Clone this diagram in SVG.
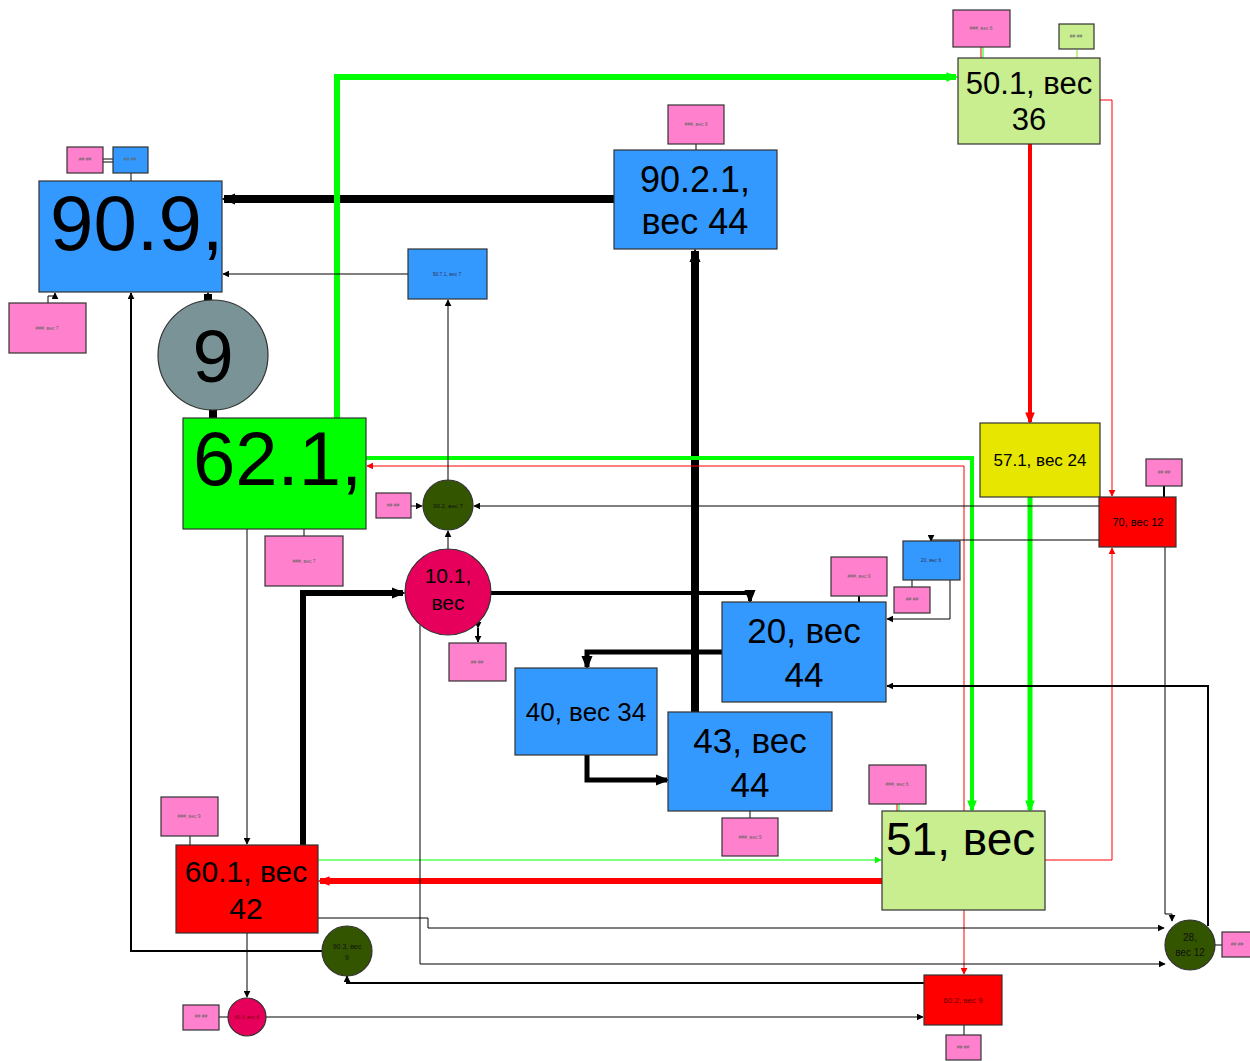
<svg xmlns="http://www.w3.org/2000/svg" width="1250" height="1061" viewBox="0 0 1250 1061">
<style>
rect,circle{stroke:#333;stroke-width:1.2}
.bl{fill:#3399ff}.pk{fill:#ff80cc}.lg{fill:#c8ee90}.gr{fill:#00ff00}.rd{fill:#ff0000}.ye{fill:#e6e600}.dg{fill:#335500}.cr{fill:#e6005c}.gy{fill:#7a9397}
text{font-family:"Liberation Sans",Arial,sans-serif;text-anchor:middle;fill:#000}
.t{font-size:5px;fill:#666}
#edges path{fill:none}
.k{stroke:#000}.r{stroke:#ff0000}.g{stroke:#00ff00}
</style>
<defs>
<marker id="ak" viewBox="0 0 10 10" refX="9" refY="5" markerUnits="userSpaceOnUse" markerWidth="7" markerHeight="7" orient="auto"><path d="M0,0L10,5L0,10z" fill="#000"/></marker>
<marker id="akb" viewBox="0 0 10 10" refX="8" refY="5" markerUnits="userSpaceOnUse" markerWidth="14" markerHeight="14" orient="auto"><path d="M0,1L10,5L0,9z" fill="#000"/></marker>
<marker id="ar" viewBox="0 0 10 10" refX="9" refY="5" markerUnits="userSpaceOnUse" markerWidth="7" markerHeight="7" orient="auto"><path d="M0,0L10,5L0,10z" fill="#ff0000"/></marker>
<marker id="arb" viewBox="0 0 10 10" refX="8" refY="5" markerUnits="userSpaceOnUse" markerWidth="12" markerHeight="12" orient="auto"><path d="M0,1L10,5L0,9z" fill="#ff0000"/></marker>
<marker id="ag" viewBox="0 0 10 10" refX="9" refY="5" markerUnits="userSpaceOnUse" markerWidth="7" markerHeight="7" orient="auto"><path d="M0,0L10,5L0,10z" fill="#00ff00"/></marker>
<marker id="agb" viewBox="0 0 10 10" refX="8" refY="5" markerUnits="userSpaceOnUse" markerWidth="12" markerHeight="12" orient="auto"><path d="M0,1L10,5L0,9z" fill="#00ff00"/></marker>
</defs>
<rect width="1250" height="1061" fill="#fff" style="stroke:none"/>

<g id="edges">
<path class="k" stroke-width="8" d="M614,199H224" marker-end="url(#akb)"/>
<path class="k" stroke-width="8" d="M695,712V251" marker-end="url(#akb)"/>
<path class="k" stroke-width="8" d="M213,418V408"/>
<path class="k" stroke-width="8" d="M208,300V294" marker-end="url(#akb)"/>
<path class="k" stroke-width="6" d="M303,845V593H403" marker-end="url(#akb)"/>
<path class="k" stroke-width="4" d="M491,593H750V601" marker-end="url(#akb)"/>
<path class="k" stroke-width="5" d="M722,652H587V667" marker-end="url(#akb)"/>
<path class="k" stroke-width="5" d="M587,755V780H667" marker-end="url(#akb)"/>
<path class="g" stroke-width="6" d="M337,418V77H956" marker-end="url(#agb)"/>
<path class="g" stroke-width="4" d="M366,458H972V810" marker-end="url(#agb)"/>
<path class="g" stroke-width="5" d="M1030,497V810" marker-end="url(#agb)"/>
<path class="r" stroke-width="4" d="M1030,144V422" marker-end="url(#arb)"/>
<path class="r" stroke-width="6" d="M882,881H320" marker-end="url(#arb)"/>
<path class="r" stroke-width="1" d="M1100,100H1112V496" marker-end="url(#ar)"/>
<path class="r" stroke-width="1" d="M1045,860H1112V548" marker-end="url(#ar)"/>
<path class="r" stroke-width="1" d="M964,811V466H367" marker-end="url(#ar)"/>
<path class="r" stroke-width="1" d="M964,910V974" marker-end="url(#ar)"/>
<path class="g" stroke-width="1" d="M318,860H881" marker-end="url(#ag)"/>
<path class="k" stroke-width="1" d="M408,274H223" marker-end="url(#ak)"/>
<path class="k" stroke-width="1" d="M448,480V300" marker-end="url(#ak)"/>
<path class="k" stroke-width="1" d="M1099,506H474" marker-end="url(#ak)"/>
<path class="k" stroke-width="1" d="M411,506H422" marker-end="url(#ak)"/>
<path class="k" stroke-width="1" d="M448,549V531" marker-end="url(#ak)"/>
<path class="k" stroke-width="2" d="M478,628V642" marker-end="url(#ak)" marker-start="url(#ak)"/>
<path class="k" stroke-width="1" d="M48,303V296H55V293" marker-end="url(#ak)"/>
<path class="k" stroke-width="1" d="M247,529V844" marker-end="url(#ak)"/>
<path class="k" stroke-width="1" d="M247,933V997" marker-end="url(#ak)"/>
<path class="k" stroke-width="1" d="M266,1017H923" marker-end="url(#ak)"/>
<path class="k" stroke-width="1" d="M219,1017H228"/>
<path class="k" stroke-width="2" d="M924,983H347V976" marker-end="url(#ak)"/>
<path class="k" stroke-width="2" d="M322,951H131V293" marker-end="url(#ak)"/>
<path class="k" stroke-width="1" d="M318,918H428V928H1164" marker-end="url(#ak)"/>
<path class="k" stroke-width="1" d="M420,625V964H1165" marker-end="url(#ak)"/>
<path class="k" stroke-width="1" d="M1165,547V914H1172V921" marker-end="url(#ak)"/>
<path class="k" stroke-width="2" d="M1208,926V686H887" marker-end="url(#ak)"/>
<path class="k" stroke-width="1" d="M1099,540H931V541" marker-end="url(#ak)"/>
<path class="k" stroke-width="1" d="M950,580V619H887" marker-end="url(#ak)"/>
<path class="k" stroke-width="1" d="M912,580V587"/>
<path class="k" stroke-width="2" d="M859,596V602"/>
<path class="k" stroke-width="1" d="M696,144V150"/>
<path class="r" stroke-width="1" d="M981,47V58"/>
<path class="g" stroke-width="1" d="M983,47V58"/>
<path stroke="#c8ee90" stroke-width="2" d="M1077,50V58"/>
<path class="r" stroke-width="1" d="M897,804V811"/>
<path class="g" stroke-width="1" d="M899,804V811"/>
<path class="k" stroke-width="1" d="M750,811V818"/>
<path class="k" stroke-width="1" d="M190,836V845"/>
<path class="k" stroke-width="1" d="M304,529V536"/>
<path class="k" stroke-width="2" d="M1164,486V497"/>
<path class="k" stroke-width="1" d="M1215,945H1222"/>
<path class="k" stroke-width="1" d="M964,1025V1035"/>
<path class="k" stroke-width="1" d="M131,173V181"/>
<path class="k" stroke-width="1" d="M103,159H113M103,162H113"/>
</g>

<g id="n909"><rect class="bl" x="39" y="181" width="183" height="111"/><text x="50" y="250" font-size="78" style="text-anchor:start">90.9,</text></g>
<g id="n909p"><rect class="pk" x="67" y="147" width="36" height="26"/><text class="t" x="85" y="161" font-size="3">## ##</text></g>
<g id="n909b"><rect class="bl" x="113" y="147" width="35" height="26"/><text class="t" x="130" y="161" font-size="3">## ##</text></g>
<g id="n909p2"><rect class="pk" x="9" y="303" width="77" height="50"/><text class="t" x="47" y="330">###, вес 7</text></g>
<g id="n9"><circle class="gy" cx="213" cy="355" r="55"/><text x="213" y="382" font-size="74">9</text></g>
<g id="n621"><rect class="gr" x="183" y="418" width="183" height="111"/><text x="193" y="485" font-size="76" style="text-anchor:start">62.1,</text></g>
<g id="n621p"><rect class="pk" x="265" y="536" width="78" height="50"/><text class="t" x="304" y="563">###, вес 7</text></g>
<g id="n9021"><rect class="bl" x="614" y="150" width="163" height="99"/><text x="695" y="192" font-size="36">90.2.1,</text><text x="695" y="234" font-size="36">вес 44</text></g>
<g id="n9021p"><rect class="pk" x="668" y="105" width="56" height="39"/><text class="t" x="696" y="126" font-size="4">###, вес 9</text></g>
<g id="n501"><rect class="lg" x="958" y="58" width="142" height="86"/><text x="1029" y="94" font-size="31">50.1, вес</text><text x="1029" y="130" font-size="31">36</text></g>
<g id="n501p"><rect class="pk" x="953" y="10" width="57" height="37"/><text class="t" x="981" y="30" font-size="4">###, вес 6</text></g>
<g id="n501g"><rect class="lg" x="1059" y="24" width="35" height="25"/><text class="t" x="1076" y="38" font-size="3">## ##</text></g>
<g id="n9071"><rect class="bl" x="408" y="249" width="79" height="50"/><text class="t" x="447" y="276" font-size="5" style="fill:#335">90.7.1, вес 7</text></g>
<g id="n571"><rect class="ye" x="980" y="423" width="120" height="74"/><text x="1040" y="466" font-size="17">57.1, вес 24</text></g>
<g id="n70"><rect class="rd" x="1099" y="497" width="77" height="50"/><text x="1138" y="526" font-size="11">70, вес 12</text></g>
<g id="n70p"><rect class="pk" x="1146" y="459" width="36" height="27"/><text class="t" x="1164" y="474" font-size="3">## ##</text></g>
<g id="n902"><circle class="dg" cx="448" cy="505" r="25"/><text x="448" y="508" font-size="6" style="fill:#111">90.2, вес 7</text></g>
<g id="n902p"><rect class="pk" x="376" y="493" width="35" height="25"/><text class="t" x="393" y="507" font-size="3">## ##</text></g>
<g id="n101"><circle class="cr" cx="448" cy="592" r="43"/><text x="448" y="583" font-size="21">10.1,</text><text x="448" y="610" font-size="21">вес</text></g>
<g id="n101p"><rect class="pk" x="449" y="643" width="57" height="38"/><text class="t" x="477" y="664" font-size="3">## ##</text></g>
<g id="n20"><rect class="bl" x="722" y="602" width="164" height="100"/><text x="804" y="643" font-size="35">20, вес</text><text x="804" y="687" font-size="35">44</text></g>
<g id="n20p"><rect class="pk" x="831" y="557" width="56" height="39"/><text class="t" x="859" y="578" font-size="4">###, вес 9</text></g>
<g id="n20b"><rect class="bl" x="903" y="541" width="57" height="39"/><text class="t" x="931" y="562" font-size="4" style="fill:#335">20, вес 6</text></g>
<g id="n20bp"><rect class="pk" x="894" y="587" width="36" height="26"/><text class="t" x="912" y="601" font-size="3">## ##</text></g>
<g id="n40"><rect class="bl" x="515" y="668" width="142" height="87"/><text x="586" y="721" font-size="26">40, вес 34</text></g>
<g id="n43"><rect class="bl" x="668" y="712" width="164" height="99"/><text x="750" y="753" font-size="35">43, вес</text><text x="750" y="797" font-size="35">44</text></g>
<g id="n43p"><rect class="pk" x="722" y="818" width="56" height="38"/><text class="t" x="750" y="839" font-size="4">###, вес 9</text></g>
<g id="n51"><rect class="lg" x="882" y="811" width="163" height="99"/><text x="886" y="855" font-size="46" style="text-anchor:start">51, вес</text></g>
<g id="n51p"><rect class="pk" x="869" y="765" width="57" height="39"/><text class="t" x="897" y="786" font-size="4">###, вес 6</text></g>
<g id="n601"><rect class="rd" x="176" y="845" width="142" height="88"/><text x="246" y="882" font-size="30">60.1, вес</text><text x="246" y="919" font-size="30">42</text></g>
<g id="n601p"><rect class="pk" x="161" y="797" width="57" height="39"/><text class="t" x="189" y="818" font-size="4">###, вес 9</text></g>
<g id="n903"><circle class="dg" cx="347" cy="951" r="25"/><text x="347" y="949" font-size="7" style="fill:#111">90.3, вес</text><text x="347" y="960" font-size="7" style="fill:#111">9</text></g>
<g id="n28"><circle class="dg" cx="1190" cy="945" r="25"/><text x="1190" y="941" font-size="10" style="fill:#111">28,</text><text x="1190" y="956" font-size="10" style="fill:#111">вес 12</text></g>
<g id="n28p"><rect class="pk" x="1222" y="932" width="30" height="25"/><text class="t" x="1237" y="946" font-size="3">## ##</text></g>
<g id="n603"><circle class="cr" cx="247" cy="1017" r="19"/><text x="247" y="1019" font-size="5" style="fill:#800">60.3, вес 6</text></g>
<g id="n603p"><rect class="pk" x="183" y="1005" width="36" height="25"/><text class="t" x="201" y="1018" font-size="3">## ##</text></g>
<g id="n602"><rect class="rd" x="924" y="975" width="78" height="50"/><text x="963" y="1003" font-size="8" style="fill:#600">60.2, вес 9</text></g>
<g id="n602p"><rect class="pk" x="946" y="1035" width="35" height="25"/><text class="t" x="963" y="1049" font-size="3">## ##</text></g>
</svg>
